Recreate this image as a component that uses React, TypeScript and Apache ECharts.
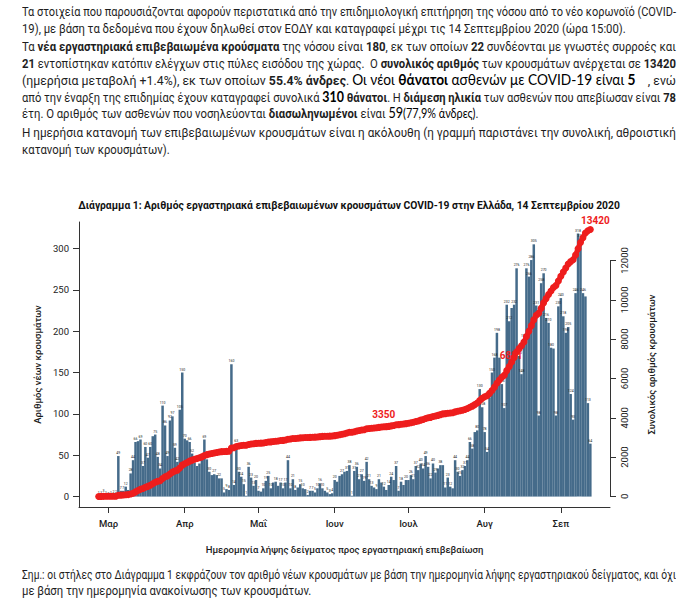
import React, { useEffect, useLayoutEffect, useRef } from 'react';
import * as echarts from 'echarts';

// Daily new confirmed cases by sample date, from 26 Feb 2020 (index 0) to 13 Sep 2020 (index 200)
const dailyCases = [
  1, 1, 3, 1, 0, 1, 2, 2,
  49, 7, 7, 12, 8, 28, 44,
  66, 67, 69, 37, 60, 47, 60, 73, 75, 48, 34,
  110, 86, 49, 92, 97, 59, 42, 105, 150,
  70, 68, 66, 52, 41, 37, 40, 45, 69, 45,
  30, 26, 27, 26, 22, 22, 5, 9, 8, 160,
  14, 63, 30, 24, 15, 1, 36, 23, 13, 20,
  7, 6, 10, 19, 25, 10, 17, 18, 13, 17, 10, 17, 44,
  10, 21, 8, 11, 15, 10, 9, 2, 7, 7, 5, 10, 16, 10, 7, 5, 3, 4,
  20, 18, 25, 27, 30, 31, 38, 1, 31, 36, 21, 27, 19, 42, 21,
  13, 11, 9, 21, 17, 12, 8, 14, 24, 20, 37, 7, 18, 14, 20,
  20, 26, 21, 37, 32, 40, 34, 49, 36, 22, 40, 29, 34, 38, 38,
  11, 23, 12, 10, 44, 30, 25, 32, 37, 44, 66, 58, 78, 80, 130, 108, 78, 54,
  120, 150, 168, 198, 168, 136, 107,
  232, 212, 228, 232, 276, 170, 148, 190, 276, 266, 286, 305,
  231, 98, 258, 270, 216, 210, 180, 179, 98, 230, 240, 218, 198, 205, 124, 93, 246, 318, 312, 246, 242, 113, 64,
];

const monthTickDays = [4, 35, 65, 96, 126, 157, 188];
const monthLabels = ['Μαρ', 'Απρ', 'Μαΐ', 'Ιουν', 'Ιουλ', 'Αυγ', 'Σεπ'];
const leftTicks = [0, 50, 100, 150, 200, 250, 300];
const rightTicks = [0, 2000, 4000, 6000, 8000, 10000, 12000];
const lineLabelDays = [116, 169, 200];
const lineLabelTexts = ['3350', '6881', '13420'];

const X_MIN = -8;
const X_MAX = 208;

const chartTitle = 'Διάγραμμα 1: Αριθμός εργαστηριακά επιβεβαιωμένων κρουσμάτων COVID-19 στην Ελλάδα, 14 Σεπτεμβρίου 2020';
const xName = 'Ημερομηνία λήψης δείγματος προς εργαστηριακή επιβεβαίωση';
const yLeftName = 'Αριθμός νέων κρουσμάτων';
const yRightName = 'Συνολικός αριθμός κρουσμάτων';

const BAR = '#456b8a';
const RED = '#ee1d1d';
const INK = '#1c1c1c';
const FONT = 'Roboto, "Noto Sans", sans-serif';

type Seg = { t: string; b?: boolean; c?: boolean; s?: boolean };
type Line = { top: number; full: boolean; segs: Seg[] };

const textLines: Line[] = [
  { top: 4, full: true, segs: [{ t: 'Τα στοιχεία που παρουσιάζονται αφορούν περιστατικά από την επιδημιολογική επιτήρηση της νόσου από το νέο κορωνοϊό (COVID-' }] },
  { top: 21, full: false, segs: [{ t: '19), με βάση τα δεδομένα που έχουν δηλωθεί στον ΕΟΔΥ και καταγραφεί μέχρι τις 14 Σεπτεμβρίου 2020 (ώρα 15:00).' }] },
  { top: 39, full: true, segs: [{ t: 'Τα ' }, { t: 'νέα εργαστηριακά επιβεβαιωμένα κρούσματα', b: true }, { t: ' της νόσου είναι ' }, { t: '180', b: true }, { t: ', εκ των οποίων ' }, { t: '22', b: true }, { t: ' συνδέονται με γνωστές συρροές και' }] },
  { top: 56, full: true, segs: [{ t: '21', b: true }, { t: ' εντοπίστηκαν κατόπιν ελέγχων στις πύλες εισόδου της χώρας.\u00a0 Ο ' }, { t: 'συνολικός αριθμός', b: true }, { t: ' των κρουσμάτων ανέρχεται σε ' }, { t: '13420', b: true }] },
  { top: 72, full: true, segs: [{ t: '(ημερήσια μεταβολή +1.4%), εκ των οποίων ' }, { t: '55.4% άνδρες', b: true }, { t: '. ' }, { t: 'Οι νέοι ', c: true }, { t: 'θάνατοι', c: true, b: true }, { t: ' ασθενών με COVID-19 είναι ', c: true }, { t: '5', c: true, b: true }, { t: '\u00a0\u00a0\u00a0 , ενώ' }] },
  { top: 89, full: true, segs: [{ t: 'από την έναρξη της επιδημίας έχουν καταγραφεί συνολικά ' }, { t: '310', c: true, b: true }, { t: ' ' }, { t: 'θάνατοι', b: true }, { t: '. Η ' }, { t: 'διάμεση ηλικία', b: true }, { t: ' των ασθενών που απεβίωσαν είναι ' }, { t: '78', b: true }] },
  { top: 105, full: false, segs: [{ t: 'έτη. Ο αριθμός των ασθενών που νοσηλεύονται ' }, { t: 'διασωληνωμένοι', b: true }, { t: ' είναι ' }, { t: '59', c: true }, { t: '(77,9% άνδρες)', c: true, s: true }, { t: '.' }] },
  { top: 125, full: true, segs: [{ t: 'Η ημερήσια κατανομή των επιβεβαιωμένων κρουσμάτων είναι η ακόλουθη (η γραμμή παριστάνει την συνολική, αθροιστική' }] },
  { top: 142, full: false, segs: [{ t: 'κατανομή των κρουσμάτων).' }] },
  { top: 567, full: true, segs: [{ t: 'Σημ.: οι στήλες στο Διάγραμμα 1 εκφράζουν τον αριθμό νέων κρουσμάτων με βάση την ημερομηνία λήψης εργαστηριακού δείγματος, και όχι' }] },
  { top: 583, full: false, segs: [{ t: 'με βάση την ημερομηνία ανακοίνωσης των κρουσμάτων.' }] },
];

const TEXT_LEFT = 22;
const TEXT_WIDTH = 654;

function Paragraphs() {
  const refs = useRef<(HTMLDivElement | null)[]>([]);
  useLayoutEffect(() => {
    const fit = () => {
      const els = refs.current;
      const widths = els.map((el) => {
        if (!el) return 0;
        el.style.transform = 'none';
        return el.getBoundingClientRect().width;
      });
      const scales: number[] = [];
      textLines.forEach((l, i) => {
        if (l.full && widths[i] > 0) scales.push(TEXT_WIDTH / widths[i]);
      });
      const avg = scales.reduce((a, b) => a + b, 0) / Math.max(1, scales.length);
      textLines.forEach((l, i) => {
        const el = els[i];
        if (!el) return;
        const s = l.full ? TEXT_WIDTH / widths[i] : avg;
        el.style.transform = `scaleX(${s})`;
      });
    };
    fit();
    if ((document as any).fonts && (document as any).fonts.ready) {
      (document as any).fonts.ready.then(fit);
    }
  }, []);
  return (
    <>
      {textLines.map((l, i) => (
        <div
          key={i}
          ref={(el) => { refs.current[i] = el; }}
          style={{
            position: 'absolute',
            left: TEXT_LEFT,
            top: l.top,
            whiteSpace: 'nowrap',
            transformOrigin: '0 0',
            fontFamily: 'Roboto, "Liberation Sans", sans-serif',
            fontSize: 13,
            lineHeight: '16px',
            color: '#1e1e1e',
          }}
        >
          {l.segs.map((s, j) => (
            <span
              key={j}
              style={{
                fontWeight: s.b ? 700 : 400,
                fontFamily: s.c ? 'Lato, "Open Sans", sans-serif' : undefined,
                fontSize: s.c ? (s.s ? 12.5 : 14.5) : undefined,
                color: s.c ? '#000' : undefined,
              }}
            >
              {s.t}
            </span>
          ))}
        </div>
      ))}
    </>
  );
}

export default function App() {
  const ref = useRef<HTMLDivElement>(null);
  useEffect(() => {
    if (!ref.current) return;
    const chart = echarts.init(ref.current, null, { renderer: 'svg' });
    const barData = dailyCases.map((v, i) => [i, v]);
    let run = 0;
    const labelStyles = [
      { position: 'top', offset: [0, 0], distance: 4 },
      { position: 'inside', offset: [-3, -2], distance: 0 },
      { position: 'top', offset: [5, 2], distance: 2 },
    ];
    const cumData = dailyCases.map((v, i) => {
      run += v;
      const k = lineLabelDays.indexOf(i);
      if (k < 0) return [i, run];
      return {
        value: [i, run],
        label: {
          show: true,
          formatter: lineLabelTexts[k],
          ...labelStyles[k],
          color: RED,
          fontSize: 10,
          fontWeight: 'bold',
          fontFamily: FONT,
        },
      };
    });

    chart.setOption({
      animation: false,
      textStyle: { fontFamily: FONT },
      graphic: [
        {
          type: 'text',
          x: 349,
          y: 205,
          style: {
            text: chartTitle,
            fill: '#111',
            fontSize: 10.3,
            fontWeight: 'bold',
            fontFamily: FONT,
            align: 'center',
            verticalAlign: 'middle',
          },
        },
      ],
      grid: { left: 79, top: 222, width: 531, height: 285, containLabel: false },
      xAxis: {
        type: 'value',
        min: X_MIN,
        max: X_MAX,
        name: xName,
        nameLocation: 'middle',
        nameGap: 37,
        nameTextStyle: { fontSize: 9.5, color: INK, fontFamily: FONT, fontWeight: 500 },
        axisLine: { show: true, onZero: false, lineStyle: { color: '#333', width: 1 } },
        axisTick: { show: true, customValues: monthTickDays, length: 6, lineStyle: { color: '#333' } },
        axisLabel: {
          customValues: monthTickDays,
          formatter: (v: number) => {
            const k = monthTickDays.indexOf(Math.round(v));
            return k >= 0 ? monthLabels[k] : '';
          },
          fontSize: 9.5,
          fontWeight: 500,
          color: INK,
          margin: 11,
        },
        splitLine: { show: false },
      },
      yAxis: [
        {
          type: 'value',
          min: -12.6,
          max: 332,
          position: 'left',
          name: yLeftName,
          nameLocation: 'middle',
          nameGap: 33,
          nameRotate: 90,
          nameTextStyle: { fontSize: 9.5, color: INK, fontFamily: FONT, fontWeight: 500 },
          axisLine: { show: true, onZero: false, lineStyle: { color: '#333', width: 1 } },
          axisTick: { show: true, customValues: leftTicks, length: 6, lineStyle: { color: '#333' } },
          axisLabel: { customValues: leftTicks, fontSize: 9.5, color: INK, margin: 10 },
          splitLine: { show: false },
        },
        {
          type: 'value',
          min: -537,
          max: 13957,
          position: 'right',
          name: yRightName,
          nameLocation: 'middle',
          nameGap: 36,
          nameRotate: 90,
          nameTextStyle: { fontSize: 9.5, color: INK, fontFamily: FONT, fontWeight: 500 },
          axisLine: { show: false, onZero: false },
          axisTick: { show: true, customValues: rightTicks, length: 6, lineStyle: { color: '#333' } },
          axisLabel: {
            customValues: rightTicks,
            formatter: (v: number) => String(Math.round(v)),
            fontSize: 9.5,
            color: INK,
            margin: 9,
            rotate: 90,
          },
          splitLine: { show: false },
        },
      ],
      series: [
        {
          type: 'bar',
          data: barData,
          xAxisIndex: 0,
          yAxisIndex: 0,
          barWidth: 2.5,
          itemStyle: { color: BAR },
          label: { show: true, position: 'top', fontSize: 3.5, color: '#222', distance: 1 },
          labelLayout: { hideOverlap: true },
          emphasis: { disabled: true },
          z: 2,
        },
        {
          type: 'line',
          data: cumData,
          xAxisIndex: 0,
          yAxisIndex: 1,
          symbol: 'circle',
          symbolSize: 7,
          showSymbol: true,
          itemStyle: { color: RED },
          lineStyle: { color: RED, width: 5 },
          emphasis: { disabled: true },
          z: 3,
          markLine: {
            silent: true,
            symbol: ['none', 'none'],
            label: { show: false },
            lineStyle: { color: '#333', width: 1, type: 'solid' },
            data: [[{ coord: [X_MAX, rightTicks[0]] }, { coord: [X_MAX, rightTicks[rightTicks.length - 1]] }]],
          },
        },
      ],
    });
    return () => chart.dispose();
  }, []);

  return (
    <div style={{ position: 'absolute', left: 0, top: 0, width: 688, height: 610, background: '#fff', overflow: 'hidden' }}>
      <div ref={ref} style={{ position: 'absolute', left: 0, top: 0, width: 688, height: 610 }} />
      <Paragraphs />
    </div>
  );
}
